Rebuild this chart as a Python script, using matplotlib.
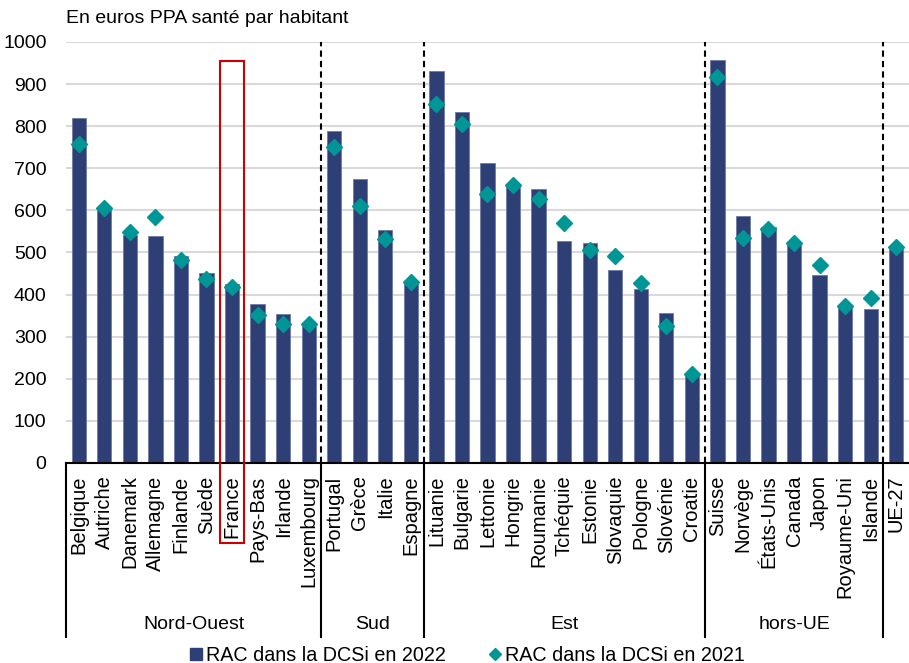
import matplotlib

matplotlib.use("Agg")
import matplotlib.pyplot as plt
import matplotlib.transforms as mtransforms
from matplotlib.lines import Line2D
from matplotlib.patches import Rectangle
import numpy

plt.rcParams["font.family"] = ["Liberation Sans", "DejaVu Sans"]

# Données
pays = [
    "Belgique", "Autriche", "Danemark", "Allemagne", "Finlande", "Suède",
    "France", "Pays-Bas", "Irlande", "Luxembourg",
    "Portugal", "Grèce", "Italie", "Espagne",
    "Lituanie", "Bulgarie", "Lettonie", "Hongrie", "Roumanie", "Tchéquie",
    "Estonie", "Slovaquie", "Pologne", "Slovénie", "Croatie",
    "Suisse", "Norvège", "États-Unis", "Canada", "Japon", "Royaume-Uni",
    "Islande", "UE-27",
]
rac_2022 = [
    819, 602, 542, 539, 492, 451, 425, 378, 354, 325,
    789, 675, 553, 428,
    930, 834, 713, 655, 651, 528, 522, 458, 414, 356, 209,
    956, 587, 561, 520, 447, 371, 366,
    508,
]
rac_2021 = [
    757, 606, 549, 585, 482, 438, 417, 351, 330, 330,
    751, 611, 531, 430,
    852, 804, 639, 660, 626, 569, 506, 491, 428, 325, 211,
    917, 535, 555, 523, 470, 374, 392,
    513,
]
groupes = ["Nord-Ouest", "Sud", "Est", "hors-UE"]
taille_groupes = [10, 4, 11, 7]

BAR_COLOR = "#2E3F76"
DIAMOND_COLOR = "#009696"

fig = plt.figure(figsize=(9.09, 6.63), dpi=100)
ax = fig.add_axes([0.0726, 0.3017, 0.9274, 0.635])

x = numpy.arange(len(pays))
ax.bar(x, rac_2022, width=0.56, color=BAR_COLOR, edgecolor="#6F7BA3",
       linewidth=0.6, zorder=2)
ax.plot(x, rac_2021, linestyle="none", marker="D", markersize=8,
        color=DIAMOND_COLOR, zorder=3)

ax.set_xlim(-0.5, len(pays) - 0.5)
ax.set_ylim(0, 1000)
ax.set_yticks(range(0, 1001, 100))
ax.grid(axis="y", color="#D9D9D9", linewidth=1.5, zorder=0)
ax.set_axisbelow(True)
for side in ["left", "right", "top"]:
    ax.spines[side].set_visible(False)
ax.spines["bottom"].set_linewidth(1.5)
ax.tick_params(axis="y", length=0, labelsize=14, pad=14)
ax.tick_params(axis="x", length=0, labelsize=14.5, pad=9)
ax.set_xticks(x)
ax.set_xticklabels(pays, rotation=90)

ax.text(0.0, 1.055, "En euros PPA santé par habitant", transform=ax.transAxes,
        fontsize=14, ha="left", va="center")

# séparateurs de groupes
trans = mtransforms.blended_transform_factory(ax.transData, ax.transAxes)
bas = -(637 - 463) / 421
ax.plot([-0.5, -0.5], [0, bas], color="black", linewidth=1.5,
        transform=trans, clip_on=False)
pos = -0.5
for nom, n in zip(groupes, taille_groupes):
    centre = pos + n / 2
    pos += n
    ax.plot([pos, pos], [0, 1], color="black", linewidth=1.5,
            linestyle=(0, (3, 2)), transform=trans, zorder=4)
    ax.plot([pos, pos], [0, bas], color="black", linewidth=1.5,
            transform=trans, clip_on=False)
    ax.text(centre, -(625 - 463) / 421, nom, transform=trans,
            fontsize=14, ha="center", va="center")

# encadré France
i_fr = pays.index("France")
ax.add_patch(Rectangle((i_fr - 0.46, -190), 0.92, 955 + 190, fill=False,
                       edgecolor="#D00000", linewidth=1.5, clip_on=False,
                       zorder=5))

handles = [
    Line2D([], [], linestyle="none", marker="s", markersize=9,
           color=BAR_COLOR),
    Line2D([], [], linestyle="none", marker="D", markersize=6,
           color=DIAMOND_COLOR),
]
fig.legend(handles, ["RAC dans la DCSi en 2022", "RAC dans la DCSi en 2021"],
           loc="center", bbox_to_anchor=(0.512, 0.012), ncol=2, frameon=False,
           fontsize=14.2, handletextpad=0.0, columnspacing=2.0,
           handlelength=1.0)

fig.savefig("out.png", dpi=100)
